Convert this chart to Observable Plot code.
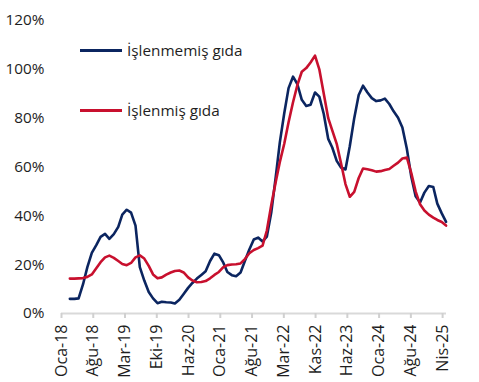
<!DOCTYPE html>
<html>
<head>
<meta charset="utf-8">
<script src="https://cdn.jsdelivr.net/npm/d3@7"></script>
<script src="https://cdn.jsdelivr.net/npm/@observablehq/plot@0.6"></script>
<style>
  html, body { margin: 0; padding: 0; background: #fff; }
  #wrap { position: relative; width: 479px; height: 382px; font-family: "Open Sans", sans-serif; }
  .leg { position: absolute; left: 80px; display: flex; align-items: center; font-size: 15.3px; color: #1e1e1e; }
  .leg span.sw { display: inline-block; width: 42px; height: 3px; margin-right: 5px; }
</style>
</head>
<body>
<div id="wrap"></div>
<script>
// Monthly series, first month Feb 2018, last month Apr 2025 (end-of-month dates)
const firstMonth = "2018-02-01";
const seriesNames = ["İşlenmemiş gıda", "İşlenmiş gıda"];
const seriesColors = ["#0b2560", "#c8102e"];

const islenmemis = [
  6.0, 6.0, 6.2, 12, 19, 24.8, 28, 31.4, 32.6, 30.6, 32.5,
  35.5, 40.5, 42.5, 41.3, 36, 19, 13.5, 8.8, 6.2, 4.2, 4.8, 4.6,
  4.5, 4.1, 5.6, 8, 10.5, 12.5, 14.3, 15.8, 17.3, 21.5, 24.5, 23.9,
  20.8, 17, 15.7, 15.3, 16.8, 21.5, 26.2, 30.3, 31.1, 29.5, 31.5, 41.5,
  56, 70, 82, 92.3, 97, 94, 87.5, 85, 85.5, 90.5, 88.8, 81.7,
  71.5, 68, 62.5, 59.8, 59, 68.5, 80, 89.5, 93.3, 90.5, 88.2, 87,
  87.3, 88, 85.8, 82.8, 80.2, 76.2, 67.5, 56, 48, 45.5, 49.5, 52.2,
  51.8, 45, 41, 37.5
];
const islenmis = [
  14.3, 14.3, 14.4, 14.5, 15, 16, 18.5, 21, 23, 23.7, 22.8,
  21.5, 20.3, 19.8, 20.7, 23, 23.8, 22.5, 19.5, 16, 14.4, 14.8, 15.9,
  16.8, 17.4, 17.6, 16.8, 14.8, 13.5, 12.8, 12.9, 13.3, 14.4, 15.8, 17,
  19, 19.8, 20.1, 20.2, 20.5, 22.3, 24.7, 26, 26.8, 27.8, 34, 44.5,
  54, 62, 69.5, 78.3, 86.5, 93.5, 99, 100.5, 102.8, 105.6, 100, 90,
  80, 75, 69.5, 61.5, 53, 47.8, 49.8, 55.5, 59.4, 59.1, 58.7, 58.1,
  58.3, 58.8, 59.2, 60.5, 61.8, 63.5, 63.9, 57.5, 50, 44.7, 42.2, 40.5,
  39.3, 38.3, 37.5, 36
];

const trMonths = ["Oca","Şub","Mar","Nis","May","Haz","Tem","Ağu","Eyl","Eki","Kas","Ara"];
const tickDates = ["2018-01-01","2018-08-10","2019-03-19","2019-10-26","2020-06-03","2021-01-10",
  "2021-08-19","2022-03-28","2022-11-04","2023-06-13","2024-01-20","2024-08-28","2025-04-06"];
const yTicks = [0, 20, 40, 60, 80, 100, 120];
const xDomain = ["2018-01-01", "2025-05-03"];

const start = new Date(firstMonth + "T00:00:00Z");
function monthEnd(i) { return d3.utcDay.offset(d3.utcMonth.offset(start, i + 1), -1); }

const rows = [];
[islenmemis, islenmis].forEach((arr, s) => {
  arr.forEach((v, i) => rows.push({date: monthEnd(i), value: v, series: seriesNames[s]}));
});

const chart = Plot.plot({
  width: 479,
  height: 382,
  marginLeft: 61,
  marginRight: 33,
  marginTop: 20,
  marginBottom: 69,
  style: {fontFamily: "'Open Sans', sans-serif", fontSize: "15px", color: "#1e1e1e", background: "#fff"},
  x: {type: "utc", domain: xDomain.map(d => new Date(d + "T00:00:00Z"))},
  y: {domain: [0, 120]},
  color: {domain: seriesNames, range: seriesColors},
  marks: [
    Plot.axisY({ticks: yTicks, tickSize: 0, tickPadding: 17, tickFormat: d => d + "%", label: null, fontSize: 15.3}),
    Plot.ruleY([0], {stroke: "#d9d9d9", strokeWidth: 2}),
    Plot.axisX({
      ticks: tickDates.map(d => new Date(d + "T00:00:00Z")),
      tickFormat: d => trMonths[d.getUTCMonth()] + "-" + String(d.getUTCFullYear()).slice(2),
      tickRotate: -90, tickSize: 5, tickPadding: 6, stroke: "#d0d0d0", strokeWidth: 2, label: null, fontSize: 16
    }),
    Plot.lineY(rows, {x: "date", y: "value", z: "series", stroke: "series", strokeWidth: 2.6, curve: "linear"})
  ]
});

const wrap = document.getElementById("wrap");
wrap.appendChild(chart);

const legendTops = [50, 110];
seriesNames.forEach((name, i) => {
  const d = document.createElement("div");
  d.className = "leg";
  d.style.top = (legendTops[i] - 11) + "px";
  d.style.height = "22px";
  d.innerHTML = `<span class="sw" style="background:${seriesColors[i]}"></span><span>${name}</span>`;
  wrap.appendChild(d);
});
</script>
</body>
</html>
